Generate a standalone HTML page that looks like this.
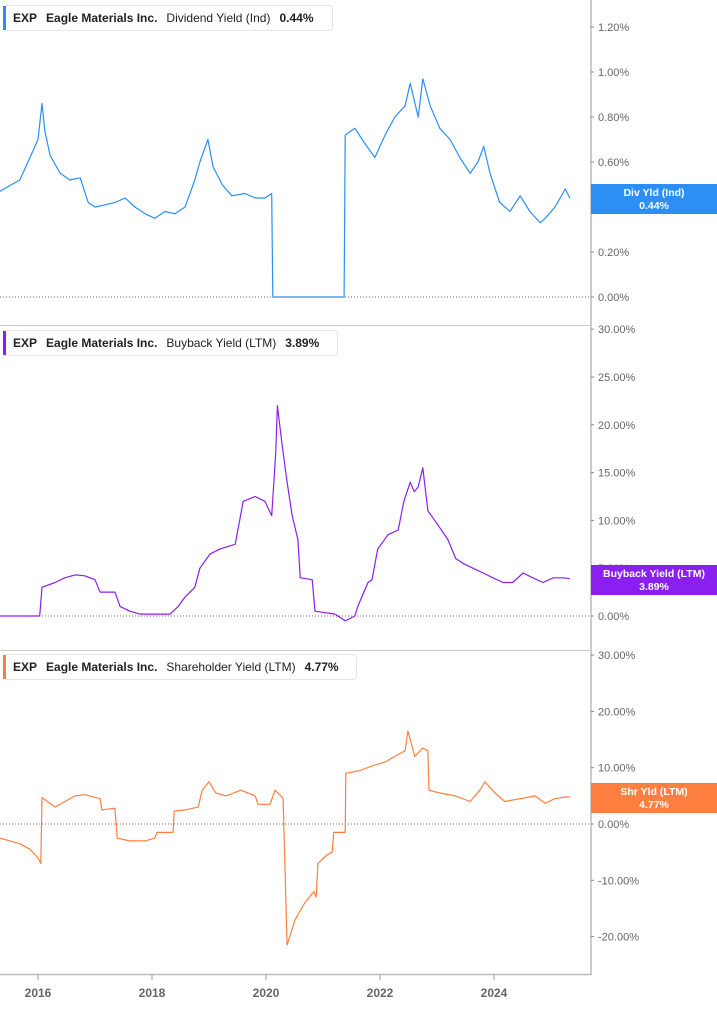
<!DOCTYPE html>
<html><head><meta charset="utf-8"><style>
body{margin:0;background:#fff;font-family:"Liberation Sans",sans-serif;}
svg text{font-family:"Liberation Sans",sans-serif;}
</style></head><body>
<svg id="c" width="717" height="1005" xmlns="http://www.w3.org/2000/svg"></svg>
<script>
// x positions expressed as years
const divYears=[2015.33,2015.68,2015.86,2016.0,2016.07,2016.12,2016.21,2016.39,2016.56,2016.74,2016.88,2017.0,2017.18,2017.35,2017.53,2017.7,2017.88,2018.05,2018.23,2018.4,2018.58,2018.75,2018.84,2018.98,2019.07,2019.23,2019.4,2019.63,2019.81,2019.98,2020.1,2020.12,2021.37,2021.39,2021.56,2021.74,2021.91,2022.09,2022.26,2022.44,2022.53,2022.67,2022.75,2022.88,2023.05,2023.23,2023.4,2023.58,2023.72,2023.82,2023.93,2024.1,2024.28,2024.46,2024.63,2024.81,2024.9,2025.07,2025.25,2025.33];
const divVals=[0.47,0.52,0.62,0.70,0.86,0.74,0.63,0.55,0.52,0.53,0.42,0.40,0.41,0.42,0.44,0.40,0.37,0.35,0.38,0.37,0.40,0.52,0.60,0.70,0.58,0.50,0.45,0.46,0.44,0.44,0.46,0,0,0.72,0.75,0.68,0.62,0.72,0.80,0.85,0.95,0.80,0.97,0.85,0.75,0.70,0.62,0.55,0.60,0.67,0.55,0.42,0.38,0.45,0.38,0.33,0.35,0.40,0.48,0.44];
const bbYears=[2015.33,2016.03,2016.07,2016.30,2016.47,2016.65,2016.82,2017.0,2017.09,2017.35,2017.44,2017.61,2017.79,2018.32,2018.46,2018.58,2018.75,2018.84,2019.02,2019.19,2019.46,2019.6,2019.81,2019.98,2020.1,2020.17,2020.2,2020.28,2020.37,2020.46,2020.56,2020.6,2020.81,2020.86,2021.21,2021.39,2021.56,2021.61,2021.79,2021.86,2021.96,2022.14,2022.32,2022.42,2022.53,2022.6,2022.67,2022.75,2022.84,2023.02,2023.19,2023.33,2023.46,2023.63,2023.81,2023.98,2024.16,2024.33,2024.51,2024.68,2024.86,2025.04,2025.21,2025.33];
const bbVals=[0,0,3,3.5,4,4.3,4.2,3.8,2.5,2.5,1,0.5,0.2,0.2,1,2,3,5,6.5,7,7.5,12,12.5,12,10.5,17,22,18,14,10.5,8,4,3.8,0.5,0.2,-0.5,0,1,3.5,3.8,7,8.5,9,12,14,13,13.5,15.5,11,9.5,8,6,5.5,5,4.5,4,3.5,3.5,4.5,4,3.5,4,4,3.9];
const shYears=[2015.33,2015.68,2015.86,2016.0,2016.05,2016.07,2016.3,2016.47,2016.65,2016.82,2017.09,2017.12,2017.35,2017.39,2017.61,2017.88,2018.05,2018.09,2018.37,2018.39,2018.58,2018.81,2018.88,2019.0,2019.12,2019.3,2019.56,2019.81,2019.86,2020.07,2020.16,2020.28,2020.3,2020.37,2020.51,2020.68,2020.84,2020.88,2020.91,2021.07,2021.16,2021.19,2021.39,2021.4,2021.65,2021.91,2022.09,2022.26,2022.44,2022.49,2022.61,2022.75,2022.84,2022.86,2023.05,2023.32,2023.58,2023.75,2023.84,2024.02,2024.19,2024.46,2024.72,2024.9,2025.07,2025.25,2025.33];
const shVals=[-2.5,-3.5,-4.5,-6,-7,4.7,3,4,5,5.2,4.5,2.5,2.8,-2.5,-3,-3,-2.5,-1.5,-1.5,2.3,2.5,3,6,7.5,5.5,5,6,5,3.5,3.5,6,4.8,4.5,-21.5,-17,-14,-12,-13,-7,-5.5,-5,-1.5,-1.5,9,9.5,10.5,11,12,13,16.5,12,13.5,13,6,5.5,5,4,6,7.5,5.5,4,4.5,5,3.7,4.5,4.8,4.8];
const yearTicks=[2016,2018,2020,2022,2024];
const divTicks=[0,0.2,0.4,0.6,0.8,1.0,1.2];
const bbTicks=[0,5,10,15,20,25,30];
const shTicks=[-20,-10,0,10,20,30];

const svg=document.getElementById('c');
const NS='http://www.w3.org/2000/svg';
function mk(tag,attrs,parent){const e=document.createElementNS(NS,tag);for(const k in attrs)e.setAttribute(k,attrs[k]);(parent||svg).appendChild(e);return e;}
const xs=y=>38+(y-2016)*57;
const AX=591;

function panel(name,years,vals,ys,ticks,dec,color,legendTitle,legendVal,legendW,tagL1,tagL2,tagY){
  const g=mk('g',{});
  
  
  ticks.forEach(t=>{
    const y=ys(t);
    const tm=mk('line',{x1:AX,x2:AX+3,y1:y,y2:y,stroke:'#888','stroke-width':1},g);
    const tx=mk('text',{x:AX+7,y:y+4,'font-size':11,fill:'#666'},g);
    tx.textContent=t.toFixed(dec)+'%';
    
    
  });
  const z=mk('line',{x1:0,x2:AX,y1:ys(0),y2:ys(0),stroke:'#666','stroke-width':1,'stroke-dasharray':'1,2'},g);
  
  
  const pts=years.map((yr,i)=>xs(yr).toFixed(1)+','+ys(vals[i]).toFixed(1)).join(' ');
  const pl=mk('polyline',{points:pts,fill:'none',stroke:color,'stroke-width':1.2,'stroke-linejoin':'round'},g);
  
  
  // tag
  const tg=mk('g',{},g);
  
  
  mk('rect',{x:AX,y:tagY,width:126,height:30,fill:color},tg);
  const t1=mk('text',{x:654,y:tagY+12,'font-size':10.5,'font-weight':'bold',fill:'#fff','text-anchor':'middle'},tg);t1.textContent=tagL1;
  const t2=mk('text',{x:654,y:tagY+25,'font-size':10.5,'font-weight':'bold',fill:'#fff','text-anchor':'middle'},tg);t2.textContent=tagL2;
  return {g,lg:legendTitle,lv:legendVal,lw:legendW};
}
function legend(name,y,color,title,val,w){
  const g=mk('g',{});
  
  
  mk('rect',{x:3.5,y:y+0.5,width:w,height:25,rx:3,fill:'#fff',stroke:'#e6e6e6'},g);
  mk('rect',{x:3,y:y+1,width:3,height:24,fill:color},g);
  const t=mk('text',{x:13,y:y+17,'font-size':12,fill:'#222'},g);
  t.innerHTML='<tspan font-weight="bold">EXP</tspan><tspan dx="9" font-weight="bold">Eagle Materials Inc.</tspan><tspan dx="9">'+title+'</tspan><tspan dx="9" font-weight="bold">'+val+'</tspan>';
}

// frame
mk('line',{x1:AX,x2:AX,y1:0,y2:975,stroke:'#999','stroke-width':1});
mk('line',{x1:0,x2:AX,y1:325.5,y2:325.5,stroke:'#ccc','stroke-width':1});
mk('line',{x1:0,x2:AX,y1:650.5,y2:650.5,stroke:'#ccc','stroke-width':1});
mk('line',{x1:0,x2:AX,y1:974.5,y2:974.5,stroke:'#bbb','stroke-width':1.5});

panel('dividend-yield',divYears,divVals,v=>297-v/0.2*45,divTicks,2,'#2b8ff5','','',0,'Div Yld (Ind)','0.44%',184);
panel('buyback-yield',bbYears,bbVals,v=>616-v/5*47.8,bbTicks,2,'#8a1ff0','','',0,'Buyback Yield (LTM)','3.89%',565);
panel('shareholder-yield',shYears,shVals,v=>824-v/10*56.3,shTicks,2,'#ff7f41','','',0,'Shr Yld (LTM)','4.77%',783);

legend('dividend-yield',5,'#2b8ff5','Dividend Yield (Ind)','0.44%',329);
legend('buyback-yield',330,'#8a1ff0','Buyback Yield (LTM)','3.89%',334);
legend('shareholder-yield',654,'#ff7f41','Shareholder Yield (LTM)','4.77%',353);

yearTicks.forEach(yr=>{
  const x=xs(yr);
  mk('line',{x1:x,x2:x,y1:975,y2:980,stroke:'#999'});
  const t=mk('text',{x:x,y:997,'font-size':12,'font-weight':'bold',fill:'#666','text-anchor':'middle'});
  t.textContent=yr;
  
  
});
</script>
</body></html>
